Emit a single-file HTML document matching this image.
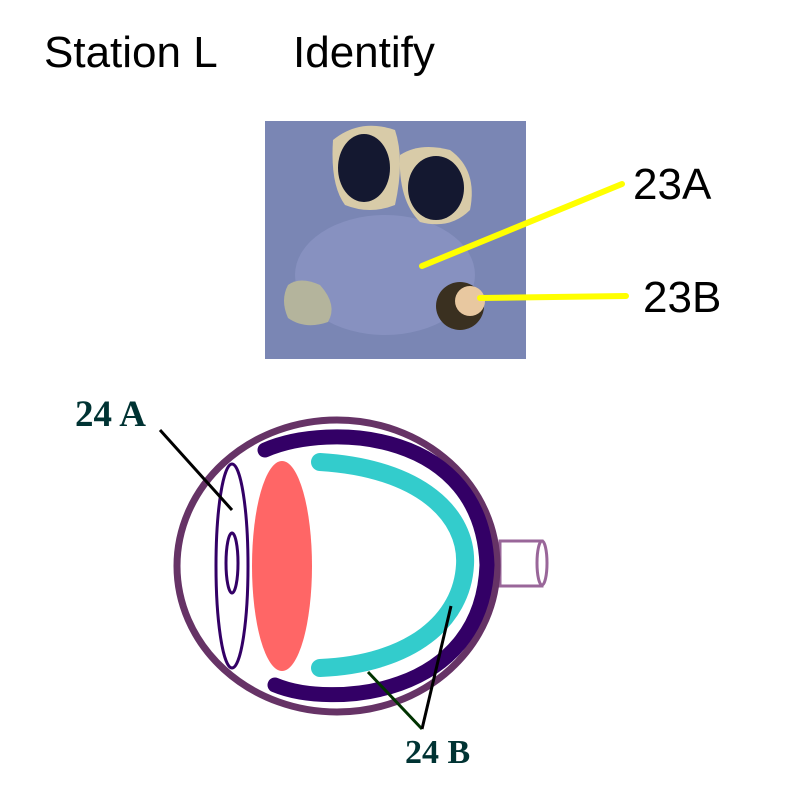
<!DOCTYPE html>
<html><head><style>body{margin:0;background:#fff}</style></head><body>
<svg width="800" height="800" viewBox="0 0 800 800" xmlns="http://www.w3.org/2000/svg">
<g font-family="Liberation Sans, sans-serif" font-size="44" fill="#000">
<text x="44" y="67">Station L</text>
<text x="293" y="67">Identify</text>
<text x="633" y="199">23A</text>
<text x="643" y="312">23B</text>
</g>
<!-- photo -->
<rect x="265" y="121" width="261" height="238" fill="#7a86b4"/>
<ellipse cx="385" cy="275" rx="90" ry="60" fill="#8791c0"/>
<path d="M333 140 Q360 118 395 130 Q405 160 395 205 Q370 215 345 205 Q330 185 333 140Z" fill="#d8cba8"/>
<ellipse cx="364" cy="168" rx="26" ry="34" fill="#141830"/>
<path d="M400 155 Q420 142 450 150 Q478 170 470 210 Q450 230 420 222 Q398 200 400 155Z" fill="#d8cba8"/>
<ellipse cx="436" cy="188" rx="28" ry="32" fill="#141830"/>
<path d="M288 285 Q300 276 320 285 Q338 305 328 322 Q305 330 288 318 Q280 300 288 285Z" fill="#b4b49c"/>
<circle cx="460" cy="306" r="24" fill="#3a3020"/>
<circle cx="470" cy="301" r="15" fill="#e8c8a0"/>
<g stroke="#ffff00" stroke-width="6" stroke-linecap="round">
<line x1="422" y1="266" x2="622" y2="184"/>
<line x1="480" y1="298" x2="626" y2="296"/>
</g>
<!-- eye -->
<rect x="500" y="541" width="42" height="45" fill="none" stroke="#996699" stroke-width="3"/>
<ellipse cx="542" cy="563" rx="5" ry="22" fill="#fff" stroke="#996699" stroke-width="3"/>
<ellipse cx="337" cy="566" rx="160" ry="146" fill="#fff" stroke="#663366" stroke-width="7"/>
<path d="M265 450 C330 422 482 430 487 565 C482 698 330 708 275 685" fill="none" stroke="#330066" stroke-width="15" stroke-linecap="round"/>
<path d="M320 462 C420 468 468 515 465 565 C462 620 412 664 320 668" fill="none" stroke="#33cccc" stroke-width="18" stroke-linecap="round"/>
<ellipse cx="282" cy="566" rx="30" ry="105" fill="#ff6666"/>
<ellipse cx="232" cy="566" rx="16" ry="102" fill="#fff" stroke="#330066" stroke-width="3"/>
<ellipse cx="232" cy="563" rx="6" ry="30" fill="none" stroke="#330066" stroke-width="3"/>
<g font-family="Liberation Serif, serif" font-weight="bold" fill="#003333">
<text x="75" y="426" font-size="37">24 A</text>
<text x="405" y="763" font-size="34">24 B</text>
</g>
<line x1="160" y1="430" x2="232" y2="510" stroke="#000" stroke-width="3"/>
<line x1="422" y1="729" x2="368" y2="672" stroke="#003300" stroke-width="3"/>
<line x1="422" y1="729" x2="451" y2="606" stroke="#000" stroke-width="3"/>
</svg>
</body></html>
